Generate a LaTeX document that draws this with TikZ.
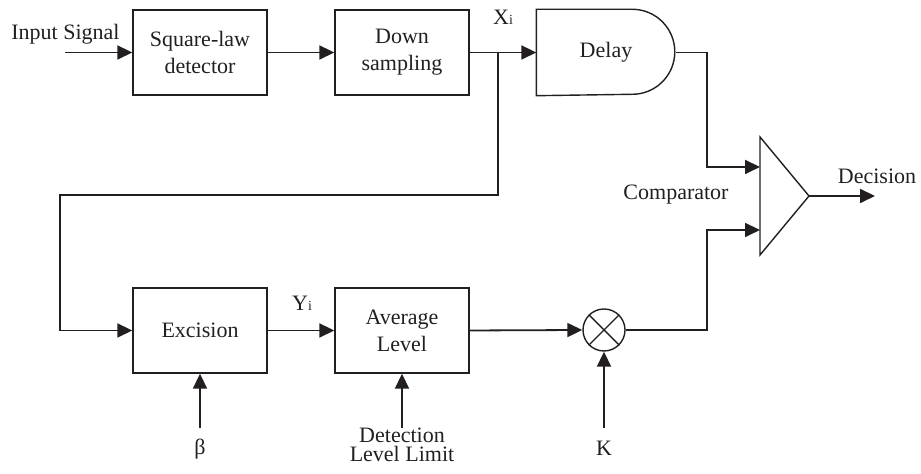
\documentclass[tikz,border=0pt]{standalone}
\usepackage{fontspec}
\setmainfont{Liberation Serif}
\usetikzlibrary{arrows.meta,positioning,calc}
\definecolor{Ink}{HTML}{231F20}
\tikzset{
  blk/.style={draw=Ink,line width=0.7pt,minimum width=67pt,minimum height=42.5pt,inner sep=0pt,align=center,text=Ink},
  lbl/.style={inner sep=0pt,align=center,text=Ink},
  arr/.style={draw=Ink,line width=0.9pt,-{Triangle[length=7.5pt,width=7pt]}}
}

\begin{document}
\begin{tikzpicture}[x=0.5pt,y=0.5pt,font=\fontsize{11}{13.5}\selectfont]
\useasboundingbox (0,0) rectangle (921,474);
% upper row
\node[blk] (sq) at (200,421.5) {Square-law\\detector};
\node[blk] (down) at (402,421.5) {Down\\sampling};
\node[blk,draw=none,minimum width=69pt] (delay) at (606,421.5) {Delay};
\draw[Ink,line width=0.7pt] (delay.north west) -- ++(96,0)
  arc[start angle=90,end angle=-90,radius=21.25pt] -- (delay.south west) -- cycle;
% lower row
\node[blk] (exc) at (200,143.5) {Excision};
\node[blk] (avg) at (402,143.5) {Average\\Level};
\node[draw=Ink,circle,line width=0.7pt,minimum size=21pt,inner sep=0pt] (mul) at (604,144) {};
\draw[Ink,line width=0.7pt] (mul.north west) -- (mul.south east) (mul.north east) -- (mul.south west);
% comparator
\draw[Ink,line width=0.7pt] (760,337) -- (809,278) -- (760,219) -- cycle;
\coordinate (cmpA) at (760,307);
\coordinate (cmpB) at (760,244);
\coordinate (cmpO) at (809,278);
% labels
\node[lbl] (insig) at (65.5,440) {Input Signal};
\node[lbl] (xi) at (503,457) {X{\scriptsize i}};
\node[lbl] (yi) at (302,171) {Y{\scriptsize i}};
\node[lbl] (cmplbl) at (676,279) {Comparator};
\node[lbl] (dec) at (877,298) {Decision};
\node[lbl] (beta) at (200,25) {β};
\node[lbl] (lim) at (402,29) {Detection\\[-4pt]Level Limit};
\node[lbl] (k) at (604,26) {K};
% free ends
\coordinate (in) at (65,421.5);
\coordinate (tap) at (498,421.5);
\coordinate (fbk) at (60,279);
\coordinate (out) at (875,278);
\coordinate (bsrc) at (200,46);
\coordinate (lsrc) at (402,46);
\coordinate (ksrc) at (604,46);
% connectors
\draw[arr] (in) -- (sq.west);
\draw[arr] (sq.east) -- (down.west);
\draw[arr] (down.east) -- (delay.west);
\draw[arr] (tap) |- (fbk) |- (exc.west);
\draw[arr] (exc.east) -- (avg.west);
\draw[arr] (avg.east) -- (mul.west);
\draw[arr] (delay.east) -- ++(31,0) |- (cmpA);
\draw[arr] (mul.east) -- ++(81,0) |- (cmpB);
\draw[arr] (cmpO) -- (out);
\draw[arr] (bsrc) -- (exc.south);
\draw[arr] (lsrc) -- (avg.south);
\draw[arr] (ksrc) -- (mul.south);
\end{tikzpicture}
\end{document}
